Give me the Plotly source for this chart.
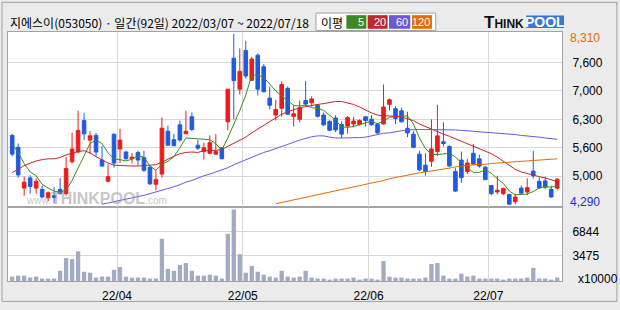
import pandas as pd
import plotly.graph_objects as go

# ---------------- data ----------------
HOLIDAYS = ["2022-03-09", "2022-05-05", "2022-06-01", "2022-06-06"]
dates = [d for d in pd.bdate_range("2022-03-07", "2022-07-18") if d.strftime("%Y-%m-%d") not in HOLIDAYS]

OPEN = [5920, 5640, 4680, 4920, 4680, 4650, 4450, 4500, 4650, 4550,
        5300, 5530, 6270, 5810, 5920, 5340, 4840, 5950, 5600, 5530,
        5370, 5520, 5400, 5170, 4770, 5010, 6020, 5820, 6170, 5960,
        6360, 5690, 5540, 5500, 5480, 5630, 6240, 7740, 7010, 7920,
        7220, 7810, 7540, 6800, 6400, 6560, 7030, 6370, 6300, 6740,
        6690, 6630, 6400, 6250, 6330, 6180, 6140, 6190, 6180, 6360,
        6300, 6180, 6190, 6650, 6550, 6500, 6090, 5950, 5480, 5220,
        5310, 5540, 5770, 5660, 5070, 5340, 5070, 5500, 5370, 5170,
        4740, 4590, 4550, 4530, 4360, 4680, 4590, 5080, 4840, 4850,
        4650, 4680]
HIGH = [5960, 5730, 4950, 4980, 4910, 4740, 4600, 4700, 4920, 5410,
        5980, 6500, 6450, 6020, 5980, 5670, 5240, 5960, 6080, 5560,
        5500, 5560, 5560, 5210, 5100, 6340, 6150, 5960, 6270, 6500,
        6460, 5820, 5750, 5920, 5950, 5640, 7010, 8310, 7970, 8150,
        7770, 7850, 7600, 7070, 6760, 7200, 7070, 6630, 6740, 7200,
        6840, 6660, 6460, 6280, 6400, 6250, 6380, 6360, 6300, 6380,
        6400, 6210, 7120, 6790, 6610, 6570, 6480, 6020, 5560, 5500,
        6300, 6640, 6230, 5690, 5160, 5540, 5370, 5720, 5470, 5200,
        4750, 4970, 4690, 4550, 4550, 4740, 4910, 5560, 4930, 4950,
        4740, 4910]
LOW = [5430, 4930, 4500, 4550, 4550, 4450, 4370, 4320, 4530, 4500,
       5260, 5500, 5810, 5480, 5430, 5180, 4820, 5160, 5270, 5350,
       5260, 5210, 5060, 4750, 4630, 4930, 5680, 5660, 5770, 5950,
       6020, 5580, 5350, 5470, 5470, 5370, 6040, 6300, 6880, 7260,
       7200, 6860, 6930, 6530, 6270, 6360, 6400, 6130, 6230, 6610,
       6600, 6340, 6140, 6020, 6000, 5860, 5960, 6110, 6150, 6130,
       6150, 5960, 6180, 6510, 6190, 6230, 5880, 5620, 5080, 4970,
       5180, 5430, 5660, 5180, 4590, 4800, 5010, 5210, 5160, 4870,
       4510, 4530, 4510, 4290, 4300, 4550, 4510, 4910, 4660, 4660,
       4450, 4630]
CLOSE = [5480, 4990, 4820, 4720, 4840, 4470, 4570, 4460, 4550, 5140,
         5600, 6040, 5960, 5910, 5530, 5200, 4950, 5270, 5810, 5370,
         5410, 5340, 5100, 4780, 4880, 6090, 5690, 5680, 5810, 6020,
         6060, 5620, 5630, 5750, 5540, 5370, 7010, 7210, 7430, 7320,
         7720, 7010, 6950, 6630, 6530, 7120, 6420, 6430, 6570, 6660,
         6780, 6370, 6170, 6040, 6050, 5950, 6340, 6260, 6270, 6270,
         6170, 5980, 6590, 6760, 6320, 6240, 5980, 5640, 5110, 5070,
         5600, 5910, 5730, 5200, 4610, 4930, 5270, 5250, 5200, 4880,
         4550, 4630, 4670, 4300, 4470, 4560, 4690, 4970, 4690, 4700,
         4470, 4890]
VOLUME = [610, 740, 740, 470, 610, 340, 340, 340, 1420, 3170,
          3030, 4110, 1280, 1150, 470, 610, 610, 1550, 1950, 610,
          470, 470, 470, 340, 340, 5860, 1680, 1420, 2220, 2490,
          1420, 740, 740, 880, 740, 340, 6540, 9910, 3710, 1150,
          2090, 1280, 880, 610, 470, 1420, 610, 470, 610, 1420,
          470, 340, 340, 200, 340, 340, 340, 470, 200, 340,
          340, 200, 2760, 610, 470, 470, 340, 340, 340, 470,
          2360, 2490, 740, 340, 340, 1010, 610, 740, 340, 340,
          340, 340, 200, 340, 340, 340, 470, 1820, 340, 340,
          200, 470]
MA5 = [5720, 5520, 5260, 5060, 4970, 4770, 4680, 4610, 4580, 4640,
       4860, 5160, 5460, 5730, 5810, 5730, 5510, 5370, 5350, 5320,
       5360, 5440, 5410, 5200, 5100, 5240, 5310, 5420, 5630, 5860,
       5850, 5840, 5830, 5820, 5720, 5580, 5860, 6180, 6510, 6870,
       7340, 7340, 7290, 7130, 6970, 6850, 6730, 6630, 6610, 6640,
       6570, 6560, 6510, 6400, 6280, 6120, 6110, 6130, 6170, 6220,
       6260, 6190, 6260, 6350, 6360, 6380, 6380, 6190, 5860, 5610,
       5480, 5470, 5480, 5500, 5410, 5280, 5150, 5050, 5050, 5110,
       5030, 4900, 4790, 4610, 4520, 4530, 4540, 4600, 4680, 4720,
       4700, 4740]
MA20 = [5050, 5120, 5210, 5270, 5320, 5350, 5370, 5370, 5400, 5460,
        5500, 5540, 5560, 5510, 5420, 5340, 5270, 5220, 5210, 5200,
        5200, 5200, 5210, 5210, 5230, 5290, 5370, 5430, 5490, 5520,
        5530, 5520, 5560, 5560, 5570, 5590, 5660, 5730, 5810, 5880,
        5980, 6070, 6160, 6250, 6340, 6420, 6480, 6530, 6570, 6600,
        6630, 6650, 6670, 6690, 6720, 6720, 6690, 6650, 6590, 6510,
        6450, 6400, 6380, 6380, 6370, 6360, 6310, 6270, 6190, 6130,
        6070, 6000, 5950, 5900, 5840, 5790, 5730, 5670, 5610, 5550,
        5490, 5410, 5320, 5210, 5120, 5060, 5020, 4990, 4950, 4920,
        4880, 4830]
MA60 = [None] * 15 + [
        4300, 4330, 4360, 4380, 4410,
        4440, 4470, 4510, 4550, 4590, 4630, 4660, 4710, 4760, 4820,
        4860, 4920, 4970, 5010, 5060, 5110, 5160, 5230, 5290, 5350,
        5410, 5470, 5520, 5560, 5610, 5660, 5720, 5760, 5810, 5850,
        5890, 5910, 5910, 5880, 5860, 5860, 5860, 5860, 5870, 5880,
        5910, 5940, 5970, 5980, 6010, 6030, 6050, 6060, 6060, 6060,
        6060, 6060, 6060, 6050, 6050, 6040, 6030, 6010, 6000, 5990,
        5980, 5970, 5960, 5950, 5940, 5920, 5910, 5890, 5880, 5860,
        5840, 5830]
MA120 = [None] * 44 + [
         4310, 4340, 4370, 4400, 4430, 4460,
         4500, 4530, 4560, 4590, 4620, 4650, 4680, 4710, 4740, 4770,
         4800, 4830, 4860, 4900, 4930, 4960, 4980, 5010, 5040, 5060,
         5080, 5110, 5130, 5150, 5180, 5200, 5210, 5230, 5240, 5240,
         5260, 5270, 5280, 5290, 5300, 5310, 5330, 5340, 5350, 5360,
         5370, 5370]

PRICE_TICKS = [7640, 6970, 6300, 5630, 4960]
PRICE_TICKTEXT = ["7,600", "7,000", "6,300", "5,600", "5,000"]
PRICE_MAX, PRICE_MIN = 8310, 4290
VOL_TICKS = [6844, 3475]
VOL_TICKTEXT = ["6844", "3475"]
TITLE = "지에스이(053050) · 일간(92일) 2022/03/07 ~ 2022/07/18"
MA_LABELS = ["5", "20", "60", "120"]

# ---------------- style ----------------
W, H = 620, 310
ML, MR, MT, MB = 7, 58, 32, 22
PW, PH = W - ML - MR, H - MT - MB
VOL_FRAC = 76 / PH
RED, BLUE = "#ec1c1c", "#1f5be0"
MA_COLORS = ["#3b8c20", "#c0282d", "#6a5ad8", "#dd6e08"]
GRID, FRAME = "#d9d9d9", "#a3a3a3"
FONT = "Noto Sans CJK KR"
NUMFONT = "Liberation Sans"


def px(x):
    return (x - ML) / PW


def py(y):
    return (H - MB - y) / PH


xi = list(range(len(dates)))
month_pos, month_txt = [], []
for k in range(1, len(dates)):
    if dates[k].month != dates[k - 1].month:
        month_pos.append(k - 0.5)
        month_txt.append(dates[k].strftime("%y/%m"))

fig = go.Figure()
fig.add_trace(go.Bar(x=xi, y=VOLUME, marker=dict(color="#a2abc4", line=dict(width=0)),
                     xaxis="x", yaxis="y", hoverinfo="skip", showlegend=False))
fig.add_trace(go.Candlestick(
    x=xi, open=OPEN, high=HIGH, low=LOW, close=CLOSE,
    increasing=dict(line=dict(color=RED, width=1), fillcolor=RED),
    decreasing=dict(line=dict(color=BLUE, width=1), fillcolor=BLUE),
    whiskerwidth=0, xaxis="x2", yaxis="y2", hoverinfo="skip", showlegend=False))
for ma, col in zip([MA5, MA20, MA60, MA120], MA_COLORS):
    fig.add_trace(go.Scatter(x=xi, y=ma, mode="lines", line=dict(color=col, width=1),
                             xaxis="x2", yaxis="y2", hoverinfo="skip", showlegend=False))

xcommon = dict(range=[-0.7, 91.8], tickvals=month_pos, showgrid=True, gridcolor=GRID,
               gridwidth=1, showline=True, linecolor=FRAME, linewidth=1, mirror=True,
               ticks="", zeroline=False, fixedrange=True)
ycommon = dict(side="right", showgrid=True, gridcolor=GRID, gridwidth=1, showline=True,
               linecolor=FRAME, linewidth=1, mirror=True, ticks="", zeroline=False,
               tickfont=dict(family=NUMFONT, size=12, color="#000"), ticklabelstandoff=7)

annotations = [
    dict(text=TITLE, x=px(7), y=py(22), xanchor="left", yanchor="middle",
         font=dict(family=FONT, size=12, color="#000")),
    dict(text=f"{PRICE_MAX:,}", x=1, xshift=6, y=PRICE_MAX, yref="y2", yshift=-4,
         xanchor="left", yanchor="middle", font=dict(family=NUMFONT, size=12, color="#d8700c")),
    dict(text=f"{PRICE_MIN:,}", x=1, xshift=6, y=PRICE_MIN, yref="y2", yshift=3,
         xanchor="left", yanchor="middle", font=dict(family=NUMFONT, size=12, color="#1b2fd6")),
    dict(text="x10000", x=px(576), y=py(286), xanchor="left", yanchor="middle",
         font=dict(family=NUMFONT, size=12, color="#000")),
    dict(text="이평", x=px(331.5), y=py(22), xanchor="center", yanchor="middle",
         font=dict(family=FONT, size=12, color="#000")),
    dict(text="<b>T</b><b style='font-size:12px'>HINK</b>", x=px(481.5), y=py(22),
         xanchor="left", yanchor="middle", font=dict(family=NUMFONT, size=17, color="#111")),
    dict(text="<b>POOL</b>", x=px(545), y=py(21.5), xanchor="center", yanchor="middle",
         font=dict(family=NUMFONT, size=14, color="#fff")),
    dict(text="www.<b style='font-size:16px'>THINKPOOL</b>.com", x=px(23), y=py(203),
         xanchor="left", yanchor="middle",
         font=dict(family=NUMFONT, size=10, color="rgba(150,150,150,0.55)")),
]
shapes = [
    dict(type="rect", xref="paper", yref="paper", x0=px(1), x1=px(617), y0=py(309), y1=py(1.5),
         line=dict(color="#a0a0a0", width=1), fillcolor="rgba(0,0,0,0)", layer="below"),
    dict(type="rect", xref="paper", yref="paper", x0=px(315.5), x1=px(435.5), y0=py(30.5), y1=py(12.5),
         line=dict(color="#a0a0a0", width=1), fillcolor="#ffffff"),
    dict(type="rect", xref="paper", yref="paper", x0=px(526), x1=px(564), y0=py(28), y1=py(15),
         line=dict(width=0), fillcolor="#3a78d8"),
]
boxes = [(346, 366), (367.3, 387.3), (388.7, 410), (411.7, 431.7)]
for (b0, b1), col, lab in zip(boxes, MA_COLORS, MA_LABELS):
    shapes.append(dict(type="rect", xref="paper", yref="paper", x0=px(b0), x1=px(b1),
                       y0=py(28.7), y1=py(14.7), line=dict(width=0), fillcolor=col))
    annotations.append(dict(text=lab, x=px(b1), xshift=-1, y=py(22), xanchor="right",
                            yanchor="middle", borderpad=0,
                            font=dict(family=NUMFONT, size=11, color="#fff")))

fig.update_layout(
    width=W, height=H, margin=dict(l=ML, r=MR, t=MT, b=MB),
    paper_bgcolor="#ebebeb", plot_bgcolor="#ffffff",
    bargap=0.28, boxgap=0.4, boxgroupgap=0,
    xaxis=dict(**xcommon, anchor="y", ticktext=month_txt,
               tickfont=dict(family=NUMFONT, size=12, color="#000"), ticklabelstandoff=4),
    xaxis2=dict(**xcommon, anchor="y2", matches="x", showticklabels=False,
                rangeslider=dict(visible=False)),
    yaxis=dict(**ycommon, domain=[0, VOL_FRAC], range=[0, 10240], tickvals=VOL_TICKS,
               ticktext=VOL_TICKTEXT, anchor="x"),
    yaxis2=dict(**ycommon, domain=[VOL_FRAC, 1], range=[4233, 8356], tickvals=PRICE_TICKS,
                ticktext=PRICE_TICKTEXT, anchor="x2"),
    annotations=[dict(a, xref=a.get("xref", "paper"), yref=a.get("yref", "paper"), showarrow=False)
                 for a in annotations],
    shapes=shapes,
)

fig.write_html("out.html", config={"displayModeBar": False, "staticPlot": True})
